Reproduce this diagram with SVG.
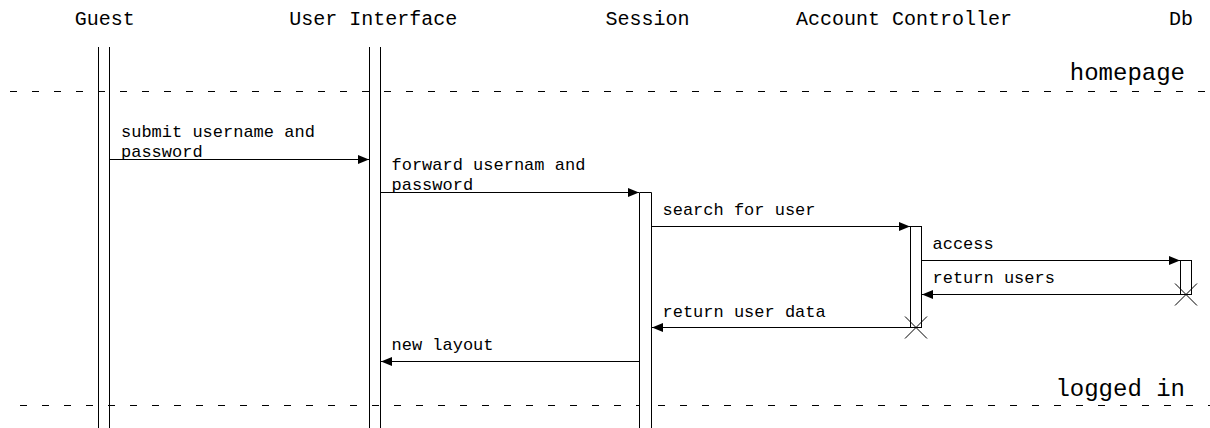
<svg xmlns="http://www.w3.org/2000/svg" width="1210" height="428" viewBox="0 0 1210 428">
  <style>
    .head { font-family: "Liberation Mono", "Courier New", monospace; font-size: 20px; fill: #000; }
    .msg { font-family: "Liberation Mono", "Courier New", monospace; font-size: 17px; fill: #000; }
    .frag { font-family: "Liberation Mono", "Courier New", monospace; font-size: 24px; fill: #000; }
    .life { stroke: #000; stroke-width: 1; fill: none; }
    .bar { stroke: #000; stroke-width: 1; fill: #fff; }
    .sep { stroke: #000; stroke-width: 1; stroke-dasharray: 7 15; fill: none; }
    .arrow { stroke: #000; stroke-width: 1; fill: none; marker-end: url(#head); }
    .kill { stroke: #000; stroke-width: 1; fill: none; }
  </style>
  <defs>
    <marker id="head" markerWidth="11" markerHeight="9" refX="11" refY="4.5" orient="auto" markerUnits="userSpaceOnUse">
      <path d="M0,0 L11,4.5 L0,9 Z" fill="#000"/>
    </marker>
  </defs>
  <rect width="1210" height="428" fill="#fff"/>

  <!-- section separators -->
  <g id="separators">
    <line class="sep" x1="10" y1="91.5" x2="1210" y2="91.5"/>
    <text class="frag" x="1185" y="80" text-anchor="end">homepage</text>
    <line class="sep" x1="20" y1="405.5" x2="1210" y2="405.5"/>
    <text class="frag" x="1185" y="396" text-anchor="end">logged in</text>
  </g>

  <!-- participants -->
  <g id="guest">
    <text class="head" x="104.7" y="25" text-anchor="middle">Guest</text>
    <line class="life" x1="98.5" y1="47" x2="98.5" y2="428"/>
    <line class="life" x1="109.5" y1="47" x2="109.5" y2="428"/>
  </g>
  <g id="user-interface">
    <text class="head" x="373.3" y="25" text-anchor="middle">User Interface</text>
    <line class="life" x1="369.5" y1="47" x2="369.5" y2="428"/>
    <line class="life" x1="380.5" y1="47" x2="380.5" y2="428"/>
  </g>
  <g id="session">
    <text class="head" x="647.5" y="25" text-anchor="middle">Session</text>
    <path class="bar" d="M639.5,428 V192.5 H651.5 V428"/>
  </g>
  <g id="account-controller">
    <text class="head" x="904" y="25" text-anchor="middle">Account Controller</text>
    <rect class="bar" x="910.5" y="226.5" width="11" height="101"/>
    <path class="kill" d="M905,316.5 L927,338.5 M927,316.5 L905,338.5"/>
  </g>
  <g id="db">
    <text class="head" x="1181" y="25" text-anchor="middle">Db</text>
    <rect class="bar" x="1180.5" y="260.5" width="11" height="34"/>
    <path class="kill" d="M1175,283.5 L1197,305.5 M1197,283.5 L1175,305.5"/>
  </g>

  <!-- messages -->
  <g id="connectors">
    <line class="arrow" x1="110" y1="159.5" x2="369" y2="159.5"/>
    <text class="msg" x="121" y="136.7">submit username and</text>
    <text class="msg" x="121" y="156.7">password</text>

    <line class="arrow" x1="381" y1="192.5" x2="639" y2="192.5"/>
    <text class="msg" x="391.5" y="169.5">forward usernam and</text>
    <text class="msg" x="391.5" y="189.5">password</text>

    <line class="arrow" x1="652" y1="226.5" x2="910" y2="226.5"/>
    <text class="msg" x="662.5" y="215">search for user</text>

    <line class="arrow" x1="922" y1="260.5" x2="1180" y2="260.5"/>
    <text class="msg" x="932.5" y="249">access</text>

    <line class="arrow" x1="1180" y1="294.5" x2="922" y2="294.5"/>
    <text class="msg" x="932.5" y="283">return users</text>

    <line class="arrow" x1="910" y1="327.5" x2="652" y2="327.5"/>
    <text class="msg" x="662.5" y="317">return user data</text>

    <line class="arrow" x1="639" y1="361.5" x2="381" y2="361.5"/>
    <text class="msg" x="391.5" y="350">new layout</text>
  </g>
</svg>
